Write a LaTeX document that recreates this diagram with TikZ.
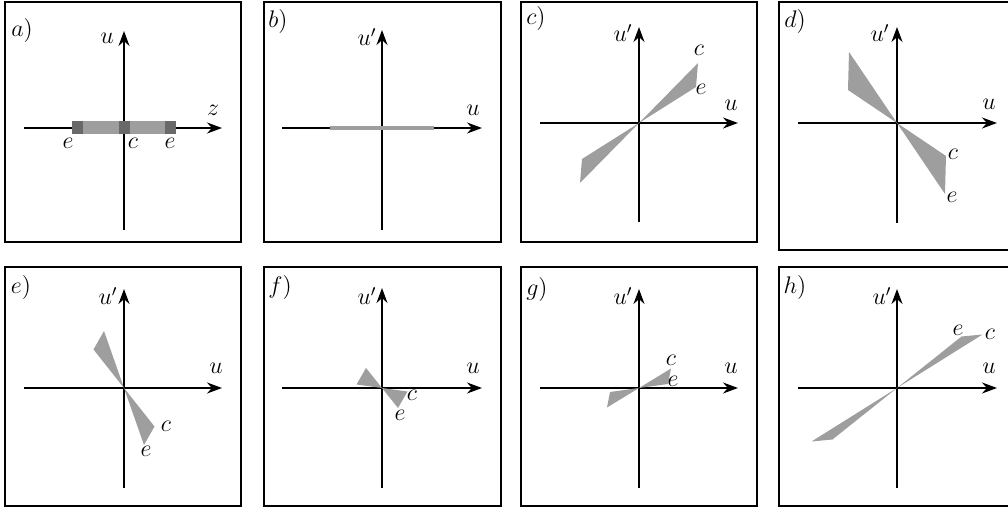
\documentclass[tikz,border=0pt]{standalone}
\usepackage{amsmath,amssymb}
\usepackage{tikz}
\usetikzlibrary{arrows.meta}
\usepackage{xcolor}
\definecolor{cgris}{RGB}{158,158,158}
\definecolor{cfonce}{RGB}{105,105,105}

\begin{document}
\begin{tikzpicture}[x=0.5pt, y=0.5pt, >={Stealth[length=7.5pt,width=5.5pt]},
  axe/.style={line width=0.9pt,->},
  cadre/.style={line width=0.8pt},
  coin/.style={fill=cgris},
  lbl/.style={inner sep=0pt,font=\large}]
\useasboundingbox (0,0) rectangle (1008,509);
% cadres
\draw[cadre] (5,267) rectangle (241,507);
\draw[cadre] (264,267) rectangle (501,507);
\draw[cadre] (521,267) rectangle (757,507);
\draw[cadre] (1008,507) -- (779,507) -- (779,259) -- (1008,259);
\draw[cadre] (5,3) rectangle (241,242);
\draw[cadre] (264,3) rectangle (501,242);
\draw[cadre] (521,3) rectangle (757,242);
\draw[cadre] (1008,242) -- (779,242) -- (779,3) -- (1008,3);
% a)
\begin{scope}[shift={(124,381)}]
\draw[axe] (-100,0) -- (98,0);
\draw[axe] (0,-102) -- (0,97);
\fill[cgris] (-52,-6.5) rectangle (52,6.5);
\fill[cfonce] (-52,-6.5) rectangle (-41,6.5);
\fill[cfonce] (-5.5,-6.5) rectangle (5.5,6.5);
\fill[cfonce] (41,-6.5) rectangle (52,6.5);
\node[lbl] (ta) at (-102,97) {$a)$};
\node[lbl] (ua) at (-17,90) {$u$};
\node[lbl] (za) at (89,18) {$z$};
\node[lbl] (e1a) at (-56,-15) {$e$};
\node[lbl] (ca) at (9,-15) {$c$};
\node[lbl] (e2a) at (46,-15) {$e$};
\end{scope}
% b)
\begin{scope}[shift={(382,381)}]
\draw[axe] (-100,0) -- (100,0);
\draw[axe] (0,-102) -- (0,98);
\fill[cgris] (-52,-2.3) rectangle (52,2.3);
\node[lbl] (tb) at (-104,106) {$b)$};
\node[lbl] (vb) at (-15,91) {$u'$};
\node[lbl] (ub) at (91,18) {$u$};
\end{scope}
% c)
\begin{scope}[shift={(639,386)}]
\draw[axe] (-99,0) -- (99,0);
\draw[axe] (0,-99) -- (0,96);
\fill[coin] (0,0) -- (59,60) -- (57,36) -- cycle (0,0) -- (-59,-60) -- (-57,-36) -- cycle;
\node[lbl] (tc) at (-103,104) {$c)$};
\node[lbl] (vc) at (-16,90) {$u'$};
\node[lbl] (uc) at (92,18) {$u$};
\node[lbl] (cc) at (60,73) {$c$};
\node[lbl] (ec) at (62,34) {$e$};
\end{scope}
% d)
\begin{scope}[shift={(897,386)}]
\draw[axe] (-99,0) -- (100,0);
\draw[axe] (0,-100) -- (0,96);
\fill[coin] (0,0) -- (49,-33) -- (48,-71) -- cycle (0,0) -- (-49,33) -- (-48,71) -- cycle;
\node[lbl] (td) at (-102,101) {$d)$};
\node[lbl] (vd) at (-17,90) {$u'$};
\node[lbl] (ud) at (92,19) {$u$};
\node[lbl] (cd) at (56,-31) {$c$};
\node[lbl] (ed) at (55,-74) {$e$};
\end{scope}
% e)
\begin{scope}[shift={(124,121)}]
\draw[axe] (-100,0) -- (98,0);
\draw[axe] (0,-100) -- (0,99);
\fill[coin] (0,0) -- (30.5,-38.5) -- (20,-57) -- cycle (0,0) -- (-30.5,38.5) -- (-20,57) -- cycle;
\node[lbl] (te) at (-103,100) {$e)$};
\node[lbl] (ve) at (-16,92) {$u'$};
\node[lbl] (ue) at (92,20) {$u$};
\node[lbl] (ce) at (42,-38) {$c$};
\node[lbl] (ee) at (22,-63) {$e$};
\end{scope}
% f)
\begin{scope}[shift={(382,121)}]
\draw[axe] (-100,0) -- (100,0);
\draw[axe] (0,-100) -- (0,100);
\fill[coin] (0,0) -- (25.5,-3.5) -- (16,-20) -- cycle (0,0) -- (-25.5,3.5) -- (-16,20) -- cycle;
\node[lbl] (tf) at (-102,100) {$f)$};
\node[lbl] (vf) at (-15,92) {$u'$};
\node[lbl] (uf) at (91,20) {$u$};
\node[lbl] (cf) at (30,-7) {$c$};
\node[lbl] (ef) at (18,-27) {$e$};
\end{scope}
% g)
\begin{scope}[shift={(639,121)}]
\draw[axe] (-99,0) -- (99,0);
\draw[axe] (0,-100) -- (0,99);
\fill[coin] (0,0) -- (32,19.5) -- (29,4) -- cycle (0,0) -- (-32,-19.5) -- (-29,-4) -- cycle;
\node[lbl] (tg) at (-102,98) {$g)$};
\node[lbl] (vg) at (-16,92) {$u'$};
\node[lbl] (ug) at (92,20) {$u$};
\node[lbl] (cg) at (32,28) {$c$};
\node[lbl] (eg) at (34,7) {$e$};
\end{scope}
% h)
\begin{scope}[shift={(897,121)}]
\draw[axe] (-99,0) -- (100,0);
\draw[axe] (0,-100) -- (0,99);
\fill[coin] (0,0) -- (85.5,53.5) -- (64.5,51.5) -- cycle (0,0) -- (-85.5,-53.5) -- (-64.5,-51.5) -- cycle;
\node[lbl] (th) at (-102,100) {$h)$};
\node[lbl] (vh) at (-15,92) {$u'$};
\node[lbl] (uh) at (92,20) {$u$};
\node[lbl] (eh) at (61,58) {$e$};
\node[lbl] (ch) at (93,54) {$c$};
\end{scope}
\end{tikzpicture}
\end{document}
